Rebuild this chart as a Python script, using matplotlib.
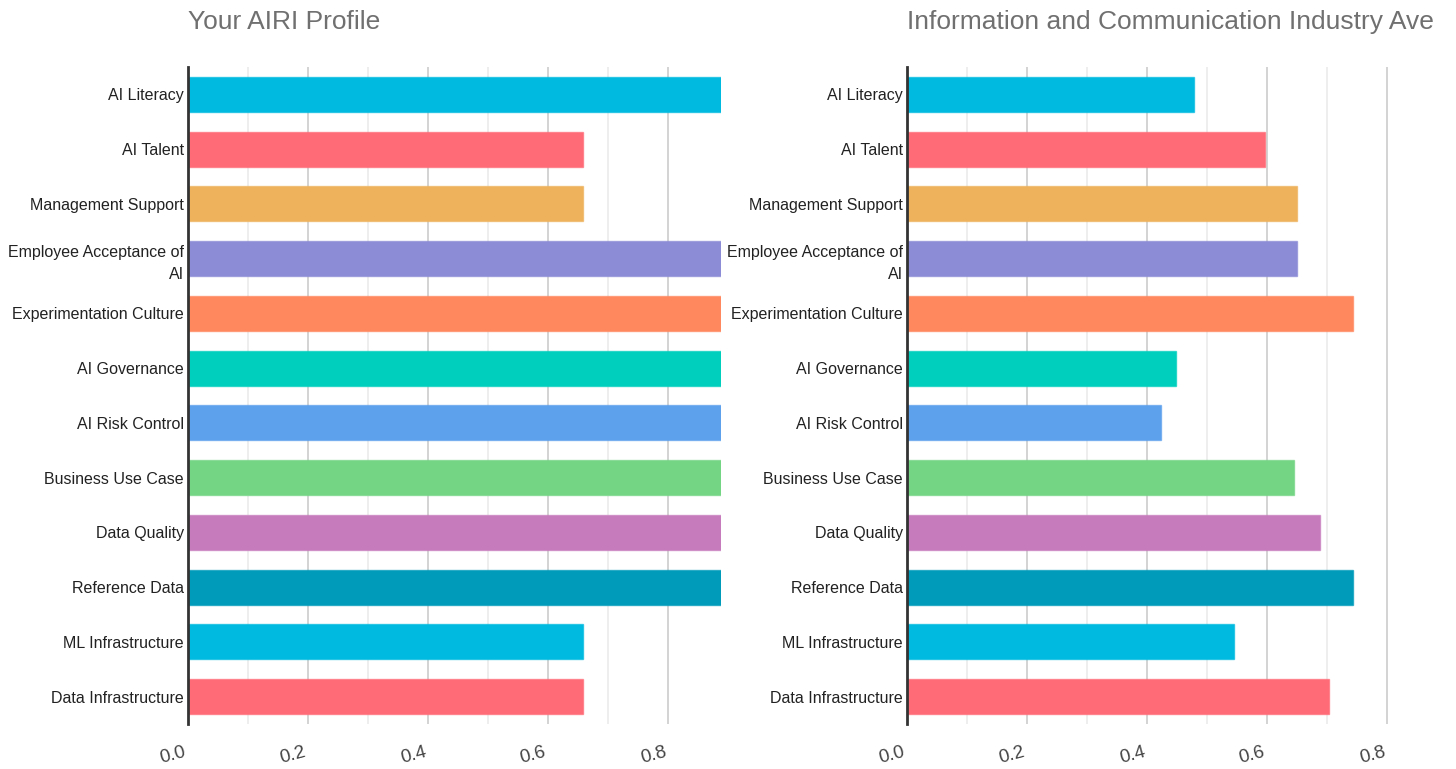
import matplotlib
matplotlib.use("Agg")
import matplotlib.pyplot as plt
import numpy as np

plt.rcParams['font.family'] = ['Liberation Sans', 'DejaVu Sans']

categories = ["AI Literacy", "AI Talent", "Management Support",
              "Employee Acceptance of\nAI", "Experimentation Culture",
              "AI Governance", "AI Risk Control", "Business Use Case",
              "Data Quality", "Reference Data", "ML Infrastructure",
              "Data Infrastructure"]
profile_values = [0.89, 0.658, 0.658, 0.89, 0.89, 0.89, 0.89, 0.89, 0.89, 0.89, 0.658, 0.658]
industry_values = [0.478, 0.596, 0.650, 0.650, 0.743, 0.448, 0.423, 0.645,
                   0.688, 0.743, 0.545, 0.703]
colors = ["#00BAE0", "#FF6B77", "#EFB25C", "#8B8BD6", "#FF885E", "#00CFBE",
          "#5DA0EC", "#74D584", "#C67BBC", "#009BBA", "#00BAE0", "#FF6B77"]
titles = ["Your AIRI Profile", "Information and Communication Industry Ave"]
x_ticks = [0.0, 0.2, 0.4, 0.6, 0.8]

fig = plt.figure(figsize=(14.56, 7.69), dpi=100)
W, H = 1456, 769
panels = [(188, profile_values), (907, industry_values)]

for (left, values), title in zip(panels, titles):
    ax = fig.add_axes([left / W, 1 - 724 / H, 533 / W, 657 / H])
    y = np.arange(len(categories))
    ax.barh(y, values, height=0.64, color=colors,
            edgecolor=[c + "AA" for c in colors], linewidth=1, zorder=3)
    ax.set_ylim(len(categories) - 0.5, -0.5)
    ax.set_xlim(0, 0.888)
    ax.set_yticks(y)
    ax.set_yticklabels(categories, fontsize=11.5, color="#222222",
                       linespacing=1.6)
    ax.set_xticks(x_ticks)
    # labels end at their gridline in the original
    ax.set_xticklabels([f"{t:.1f}" for t in x_ticks], fontsize=13.5,
                       color="#444444", rotation=15, ha='right')
    ax.set_xticks(np.arange(0.1, 0.89, 0.2), minor=True)
    ax.tick_params(axis='both', which='both', length=0, pad=3)
    ax.tick_params(axis='x', pad=14)
    ax.grid(axis='x', which='major', color="#cccccc", linewidth=1.2, zorder=0)
    ax.grid(axis='x', which='minor', color="#ebebeb", linewidth=1.2, zorder=0)
    for side in ['top', 'right', 'bottom']:
        ax.spines[side].set_visible(False)
    ax.spines['left'].set_color("#333333")
    ax.spines['left'].set_linewidth(2)
    ax.spines['left'].set_zorder(4)

    fig.text(left / W, 1 - 22 / H, title, fontsize=19, color="#707070",
             ha='left', va='center')

fig.savefig("out.png", dpi=100)
